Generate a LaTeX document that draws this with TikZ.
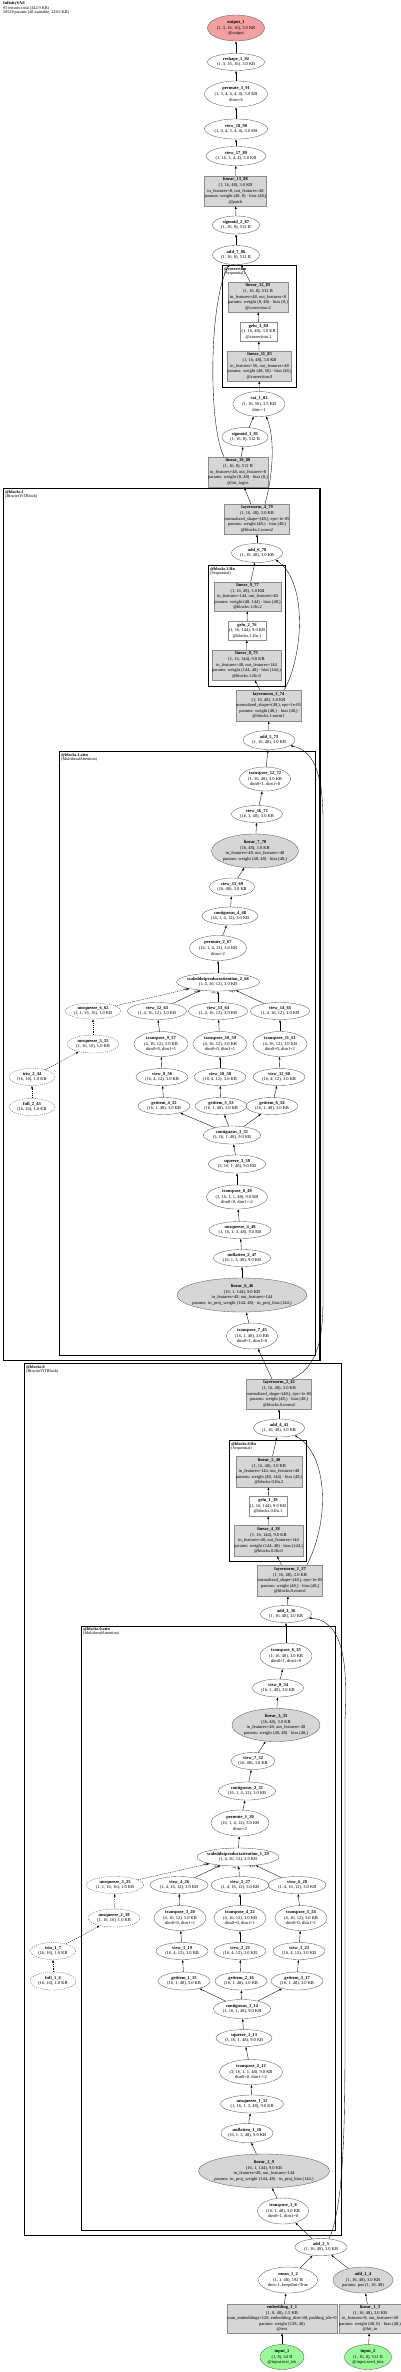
\documentclass[tikz,border=0pt]{standalone}
\usepackage{fontspec}
\setmainfont{Liberation Serif}
\usetikzlibrary{arrows.meta,shapes.geometric}
\definecolor{outfill}{HTML}{F4A0A0}
\definecolor{infill}{HTML}{98FB98}
\definecolor{parfill}{HTML}{D6D6D6}

\begin{document}
\begin{tikzpicture}[x=1pt,y=-1pt,
  every node/.style={font=\fontsize{4.5}{5.6}\selectfont,align=center,inner sep=0pt},
  sz/.style 2 args={minimum width=#1pt,minimum height=#2pt},
  oval/.style={ellipse,draw=black!65,line width=0.35pt,inner xsep=-8pt,inner ysep=-3pt},
  doval/.style={oval,dash pattern=on 1.2pt off 1pt},
  poval/.style={oval,fill=parfill},
  pbox/.style={rectangle,draw=black!45,fill=parfill,line width=0.35pt},
  wbox/.style={rectangle,draw=black!45,line width=0.35pt},
  cluster/.style={draw=black,line width=1pt},
  outer/.style={draw=black,line width=1.5pt},
  clab/.style={anchor=north west,align=left,font=\fontsize{4.2}{4.3}\selectfont},
  conn/.style={-{Latex[length=2.8pt,width=2pt]},line width=0.35pt},
  dconn/.style={conn,dash pattern=on 1.2pt off 1pt},
  lab/.style={font=\fontsize{3}{3}\selectfont}]
\useasboundingbox (0,0) rectangle (400,2372);

\node[anchor=north west,align=left,font=\fontsize{4.2}{4.4}\selectfont] (title) at (3,1.5)
  {\textbf{InfinityVAE}\\95 tensors total (342.9 KB)\\58528 params (all trainable, 228.6 KB)};

% module boxes
\draw[outer] (222.3,265.7) rectangle (296.7,387.3);
\node[clab] (correction_lab) at (224,267) {\textbf{@correction}\\(Sequential)};
\draw[outer] (3.3,488.7) rectangle (320,1360.7);
\node[clab] (blocks_1_lab) at (5,490) {\textbf{@blocks.1}\\(BitwiseViTBlock)};
\draw[cluster] (208.3,565.7) rectangle (285.7,686);
\node[clab] (blocks_1_ffn_lab) at (210,567) {\textbf{@blocks.1.ffn}\\(Sequential)};
\draw[cluster] (59.3,751.7) rectangle (315,1355);
\node[clab] (blocks_1_attn_lab) at (61,753) {\textbf{@blocks.1.attn}\\(MultiheadAttention)};
\draw[outer] (24.3,1363.3) rectangle (341.7,2235.7);
\node[clab] (blocks_0_lab) at (26,1365) {\textbf{@blocks.0}\\(BitwiseViTBlock)};
\draw[cluster] (229.3,1440.7) rectangle (306.7,1561);
\node[clab] (blocks_0_ffn_lab) at (231,1442) {\textbf{@blocks.0.ffn}\\(Sequential)};
\draw[cluster] (81,1626) rectangle (335.7,2230);
\node[clab] (blocks_0_attn_lab) at (83,1627.5) {\textbf{@blocks.0.attn}\\(MultiheadAttention)};

% head
\node[oval,sz={57}{26},fill=outfill] (output_1) at (236,28) {\textbf{output\_1}\\(1, 3, 16, 16), 3.0 KB\\@output};
\node[oval,sz={57}{17}] (reshape_1_92) at (236,62) {\textbf{reshape\_1\_92}\\(1, 3, 16, 16), 3.0 KB};
\node[oval,sz={63}{26}] (permute_3_91) at (236,94) {\textbf{permute\_3\_91}\\(1, 3, 4, 4, 4, 4), 3.0 KB\\dims=6};
\node[oval,sz={63}{20}] (view_18_90) at (236,129) {\textbf{view\_18\_90}\\(1, 4, 4, 3, 4, 4), 3.0 KB};
\node[oval,sz={60}{19}] (view_17_89) at (236,156) {\textbf{view\_17\_89}\\(1, 16, 3, 4, 4), 3.0 KB};
\node[pbox,sz={61}{30}] (linear_13_88) at (235.5,191) {\textbf{linear\_13\_88}\\(1, 16, 48), 3.0 KB\\in\_features=8, out\_features=48\\params: weight (48, 8) · bias (48,)\\@patch};
\node[oval,sz={47}{18}] (sigmoid_2_87) at (236,225) {\textbf{sigmoid\_2\_87}\\(1, 16, 8), 512 B};
\node[oval,sz={47}{19}] (add_7_86) at (236,255) {\textbf{add\_7\_86}\\(1, 16, 8), 512 B};
\node[pbox,sz={58}{30}] (linear_12_85) at (258,297) {\textbf{linear\_12\_85}\\(1, 16, 8), 512 B\\in\_features=48, out\_features=8\\params: weight (8, 48) · bias (8,)\\@correction.2};
\node[wbox,sz={37}{19}] (gelu_3_84) at (258.5,331.5) {\textbf{gelu\_3\_84}\\(1, 16, 48), 3.0 KB\\@correction.1};
\node[pbox,sz={63}{30}] (linear_11_83) at (259.5,366) {\textbf{linear\_11\_83}\\(1, 16, 48), 3.0 KB\\in\_features=56, out\_features=48\\params: weight (48, 56) · bias (48,)\\@correction.0};
\node[oval,sz={52}{25}] (cat_1_82) at (259,404) {\textbf{cat\_1\_82}\\(1, 16, 56), 3.5 KB\\dim=-1};
\node[oval,sz={46}{19}] (sigmoid_1_81) at (245,437) {\textbf{sigmoid\_1\_81}\\(1, 16, 8), 512 B};
\node[pbox,sz={58}{30}] (linear_10_80) at (238,472) {\textbf{linear\_10\_80}\\(1, 16, 8), 512 B\\in\_features=48, out\_features=8\\params: weight (8, 48) · bias (8,)\\@bit\_logits};

% blocks.1
\node[pbox,sz={62}{30}] (layernorm_4_79) at (257,519) {\textbf{layernorm\_4\_79}\\(1, 16, 48), 3.0 KB\\normalized\_shape=(48,), eps=1e-05\\params: weight (48,) · bias (48,)\\@blocks.1.norm2};
\node[oval,sz={51}{19}] (add_6_78) at (257,553) {\textbf{add\_6\_78}\\(1, 16, 48), 3.0 KB};
\node[pbox,sz={63}{29}] (linear_9_77) at (247.5,596.5) {\textbf{linear\_9\_77}\\(1, 16, 48), 3.0 KB\\in\_features=144, out\_features=48\\params: weight (48, 144) · bias (48,)\\@blocks.1.ffn.2};
\node[wbox,sz={38}{19}] (gelu_2_76) at (247,630.5) {\textbf{gelu\_2\_76}\\(1, 16, 144), 9.0 KB\\@blocks.1.ffn.1};
\node[pbox,sz={65}{30}] (linear_8_75) at (246.5,665) {\textbf{linear\_8\_75}\\(1, 16, 144), 9.0 KB\\in\_features=48, out\_features=144\\params: weight (144, 48) · bias (144,)\\@blocks.1.ffn.0};
\node[pbox,sz={63}{31}] (layernorm_3_74) at (268.5,705.5) {\textbf{layernorm\_3\_74}\\(1, 16, 48), 3.0 KB\\normalized\_shape=(48,), eps=1e-05\\params: weight (48,) · bias (48,)\\@blocks.1.norm1};
\node[oval,sz={52}{19}] (add_5_73) at (269,740) {\textbf{add\_5\_73}\\(1, 16, 48), 3.0 KB};
\node[oval,sz={51}{24}] (transpose_12_72) at (265,779) {\textbf{transpose\_12\_72}\\(1, 16, 48), 3.0 KB\\dim0=1, dim1=0};
\node[oval,sz={51}{17}] (view_16_71) at (257,814) {\textbf{view\_16\_71}\\(16, 1, 48), 3.0 KB};
\node[poval,sz={87}{34}] (linear_7_70) at (255,851) {\textbf{linear\_7\_70}\\(16, 48), 3.0 KB\\in\_features=48, out\_features=48\\params: weight (48, 48) · bias (48,)};
\node[oval,sz={45}{18}] (view_15_69) at (232,887) {\textbf{view\_15\_69}\\(16, 48), 3.0 KB};
\node[oval,sz={56}{18}] (contiguous_4_68) at (230,916) {\textbf{contiguous\_4\_68}\\(16, 1, 4, 12), 3.0 KB};
\node[oval,sz={57}{25}] (permute_2_67) at (218,948) {\textbf{permute\_2\_67}\\(16, 1, 4, 12), 3.0 KB\\dims=2};
\node[oval,sz={83}{18}] (sdpa_2_66) at (218,982) {\textbf{scaleddotproductattention\_2\_66}\\(1, 4, 16, 12), 3.0 KB};
\node[doval,sz={56}{16}] (unsqueeze_6_62) at (93,1011) {\textbf{unsqueeze\_6\_62}\\(1, 1, 16, 16), 1.0 KB};
\node[oval,sz={59}{17}] (view_12_63) at (157,1011) {\textbf{view\_12\_63}\\(1, 4, 16, 12), 3.0 KB};
\node[oval,sz={59}{17}] (view_13_64) at (218,1011) {\textbf{view\_13\_64}\\(1, 4, 16, 12), 3.0 KB};
\node[oval,sz={59}{17}] (view_14_65) at (280,1011) {\textbf{view\_14\_65}\\(1, 4, 16, 12), 3.0 KB};
\node[doval,sz={52}{18}] (unsqueeze_5_55) at (93,1044) {\textbf{unsqueeze\_5\_55}\\(1, 16, 16), 1.0 KB};
\node[oval,sz={54}{25}] (transpose_9_57) at (161,1044) {\textbf{transpose\_9\_57}\\(4, 16, 12), 3.0 KB\\dim0=0, dim1=1};
\node[oval,sz={54}{25}] (transpose_10_59) at (220,1044) {\textbf{transpose\_10\_59}\\(4, 16, 12), 3.0 KB\\dim0=0, dim1=1};
\node[oval,sz={54}{25}] (transpose_11_61) at (280,1044) {\textbf{transpose\_11\_61}\\(4, 16, 12), 3.0 KB\\dim0=0, dim1=1};
\node[doval,sz={46}{17}] (triu_2_44) at (32,1077) {\textbf{triu\_2\_44}\\(16, 16), 1.0 KB};
\node[oval,sz={52}{17}] (view_9_56) at (162,1077) {\textbf{view\_9\_56}\\(16, 4, 12), 3.0 KB};
\node[oval,sz={52}{17}] (view_10_58) at (220,1077) {\textbf{view\_10\_58}\\(16, 4, 12), 3.0 KB};
\node[oval,sz={52}{17}] (view_11_60) at (279,1077) {\textbf{view\_11\_60}\\(16, 4, 12), 3.0 KB};
\node[doval,sz={46}{17}] (full_2_43) at (32,1107) {\textbf{full\_2\_43}\\(16, 16), 1.0 KB};
\node[oval,sz={52}{17}] (getitem_4_52) at (164,1106) {\textbf{getitem\_4\_52}\\(16, 1, 48), 3.0 KB};
\node[oval,sz={52}{17}] (getitem_5_53) at (221,1106) {\textbf{getitem\_5\_53}\\(16, 1, 48), 3.0 KB};
\node[oval,sz={52}{17}] (getitem_6_54) at (272,1106) {\textbf{getitem\_6\_54}\\(16, 1, 48), 3.0 KB};
\node[oval,sz={57}{18}] (contiguous_3_51) at (232,1135) {\textbf{contiguous\_3\_51}\\(3, 16, 1, 48), 9.0 KB};
\node[oval,sz={57}{18}] (squeeze_3_50) at (237,1164) {\textbf{squeeze\_3\_50}\\(3, 16, 1, 48), 9.0 KB};
\node[oval,sz={61}{24}] (transpose_8_49) at (237,1197) {\textbf{transpose\_8\_49}\\(3, 16, 1, 1, 48), 9.0 KB\\dim0=0, dim1=-2};
\node[oval,sz={62}{17}] (unsqueeze_4_48) at (240,1230) {\textbf{unsqueeze\_4\_48}\\(1, 16, 1, 3, 48), 9.0 KB};
\node[oval,sz={57}{17}] (unflatten_2_47) at (242,1258) {\textbf{unflatten\_2\_47}\\(16, 1, 3, 48), 9.0 KB};
\node[poval,sz={130}{34}] (linear_6_46) at (242,1295) {\textbf{linear\_6\_46}\\(16, 1, 144), 9.0 KB\\in\_features=48, out\_features=144\\params: in\_proj\_weight (144, 48) · in\_proj\_bias (144,)};
\node[oval,sz={51}{26}] (transpose_7_45) at (252,1336) {\textbf{transpose\_7\_45}\\(16, 1, 48), 3.0 KB\\dim0=1, dim1=0};

% blocks.0
\node[pbox,sz={64}{30}] (layernorm_2_42) at (279,1394) {\textbf{layernorm\_2\_42}\\(1, 16, 48), 3.0 KB\\normalized\_shape=(48,), eps=1e-05\\params: weight (48,) · bias (48,)\\@blocks.0.norm2};
\node[oval,sz={51}{18}] (add_4_41) at (279,1428) {\textbf{add\_4\_41}\\(1, 16, 48), 3.0 KB};
\node[pbox,sz={64}{31}] (linear_5_40) at (269,1471.5) {\textbf{linear\_5\_40}\\(1, 16, 48), 3.0 KB\\in\_features=144, out\_features=48\\params: weight (48, 144) · bias (48,)\\@blocks.0.ffn.2};
\node[wbox,sz={38}{20}] (gelu_1_39) at (268,1506) {\textbf{gelu\_1\_39}\\(1, 16, 144), 9.0 KB\\@blocks.0.ffn.1};
\node[pbox,sz={65}{31}] (linear_4_38) at (268.5,1540.5) {\textbf{linear\_4\_38}\\(1, 16, 144), 9.0 KB\\in\_features=48, out\_features=144\\params: weight (144, 48) · bias (144,)\\@blocks.0.ffn.0};
\node[pbox,sz={64}{31}] (layernorm_1_37) at (290,1580.5) {\textbf{layernorm\_1\_37}\\(1, 16, 48), 3.0 KB\\normalized\_shape=(48,), eps=1e-05\\params: weight (48,) · bias (48,)\\@blocks.0.norm1};
\node[oval,sz={51}{17}] (add_3_36) at (286,1614) {\textbf{add\_3\_36}\\(1, 16, 48), 3.0 KB};
\node[oval,sz={52}{26}] (transpose_6_35) at (286,1656) {\textbf{transpose\_6\_35}\\(1, 16, 48), 3.0 KB\\dim0=1, dim1=0};
\node[oval,sz={51}{18}] (view_8_34) at (278,1688) {\textbf{view\_8\_34}\\(16, 1, 48), 3.0 KB};
\node[poval,sz={88}{33}] (linear_3_33) at (276,1725) {\textbf{linear\_3\_33}\\(16, 48), 3.0 KB\\in\_features=48, out\_features=48\\params: weight (48, 48) · bias (48,)};
\node[oval,sz={44}{17}] (view_7_32) at (253,1761) {\textbf{view\_7\_32}\\(16, 48), 3.0 KB};
\node[oval,sz={57}{18}] (contiguous_2_31) at (247,1791) {\textbf{contiguous\_2\_31}\\(16, 1, 4, 12), 3.0 KB};
\node[oval,sz={58}{26}] (permute_1_30) at (240,1823) {\textbf{permute\_1\_30}\\(16, 1, 4, 12), 3.0 KB\\dims=2};
\node[oval,sz={82}{18}] (sdpa_1_29) at (238,1857) {\textbf{scaleddotproductattention\_1\_29}\\(1, 4, 16, 12), 3.0 KB};
\node[doval,sz={57}{17}] (unsqueeze_3_25) at (115,1885) {\textbf{unsqueeze\_3\_25}\\(1, 1, 16, 16), 1.0 KB};
\node[oval,sz={58}{17}] (view_4_26) at (179,1885) {\textbf{view\_4\_26}\\(1, 4, 16, 12), 3.0 KB};
\node[oval,sz={58}{17}] (view_5_27) at (240,1885) {\textbf{view\_5\_27}\\(1, 4, 16, 12), 3.0 KB};
\node[oval,sz={58}{17}] (view_6_28) at (297,1885) {\textbf{view\_6\_28}\\(1, 4, 16, 12), 3.0 KB};
\node[doval,sz={52}{18}] (unsqueeze_2_18) at (114,1918) {\textbf{unsqueeze\_2\_18}\\(1, 16, 16), 1.0 KB};
\node[oval,sz={52}{25}] (transpose_3_20) at (180,1918) {\textbf{transpose\_3\_20}\\(4, 16, 12), 3.0 KB\\dim0=0, dim1=1};
\node[oval,sz={52}{25}] (transpose_4_22) at (240,1918) {\textbf{transpose\_4\_22}\\(4, 16, 12), 3.0 KB\\dim0=0, dim1=1};
\node[oval,sz={52}{25}] (transpose_5_24) at (301,1918) {\textbf{transpose\_5\_24}\\(4, 16, 12), 3.0 KB\\dim0=0, dim1=1};
\node[doval,sz={45}{17}] (triu_1_7) at (53,1951) {\textbf{triu\_1\_7}\\(16, 16), 1.0 KB};
\node[oval,sz={52}{17}] (view_1_19) at (182,1951) {\textbf{view\_1\_19}\\(16, 4, 12), 3.0 KB};
\node[oval,sz={52}{17}] (view_2_21) at (240,1951) {\textbf{view\_2\_21}\\(16, 4, 12), 3.0 KB};
\node[oval,sz={52}{17}] (view_3_23) at (299,1951) {\textbf{view\_3\_23}\\(16, 4, 12), 3.0 KB};
\node[doval,sz={46}{18}] (full_1_6) at (53,1981) {\textbf{full\_1\_6}\\(16, 16), 1.0 KB};
\node[oval,sz={52}{18}] (getitem_1_15) at (184,1981) {\textbf{getitem\_1\_15}\\(16, 1, 48), 3.0 KB};
\node[oval,sz={52}{18}] (getitem_2_16) at (241,1981) {\textbf{getitem\_2\_16}\\(16, 1, 48), 3.0 KB};
\node[oval,sz={52}{18}] (getitem_3_17) at (297,1981) {\textbf{getitem\_3\_17}\\(16, 1, 48), 3.0 KB};
\node[oval,sz={57}{19}] (contiguous_1_14) at (242,2009) {\textbf{contiguous\_1\_14}\\(3, 16, 1, 48), 9.0 KB};
\node[oval,sz={56}{17}] (squeeze_1_13) at (244,2038) {\textbf{squeeze\_1\_13}\\(3, 16, 1, 48), 9.0 KB};
\node[oval,sz={63}{25}] (transpose_2_12) at (251,2072) {\textbf{transpose\_2\_12}\\(3, 16, 1, 1, 48), 9.0 KB\\dim0=0, dim1=-2};
\node[oval,sz={63}{18}] (unsqueeze_1_11) at (252,2104) {\textbf{unsqueeze\_1\_11}\\(1, 16, 1, 3, 48), 9.0 KB};
\node[oval,sz={52}{19}] (unflatten_1_10) at (247,2133) {\textbf{unflatten\_1\_10}\\(16, 1, 3, 48), 9.0 KB};
\node[poval,sz={131}{34}] (linear_2_9) at (264,2171) {\textbf{linear\_2\_9}\\(16, 1, 144), 9.0 KB\\in\_features=48, out\_features=144\\params: in\_proj\_weight (144, 48) · in\_proj\_bias (144,)};
\node[oval,sz={51}{26}] (transpose_1_8) at (283,2211) {\textbf{transpose\_1\_8}\\(16, 1, 48), 3.0 KB\\dim0=1, dim1=0};

% inputs
\node[oval,sz={52}{17}] (add_2_5) at (321,2247) {\textbf{add\_2\_5}\\(1, 16, 48), 3.0 KB};
\node[oval,sz={59}{26}] (mean_1_2) at (288,2280) {\textbf{mean\_1\_2}\\(1, 1, 48), 192 B\\dim=1, keepdim=True};
\node[poval,sz={60}{26}] (add_1_4) at (363,2280) {\textbf{add\_1\_4}\\(1, 16, 48), 3.0 KB\\params: pos (1, 16, 48)};
\node[pbox,sz={103}{29}] (embedding_1_1) at (282,2318.5) {\textbf{embedding\_1\_1}\\(1, 8, 48), 1.5 KB\\num\_embeddings=128, embedding\_dim=48, padding\_idx=0\\params: weight (128, 48)\\@text};
\node[pbox,sz={62}{29}] (linear_1_3) at (370,2318.5) {\textbf{linear\_1\_3}\\(1, 16, 48), 3.0 KB\\in\_features=8, out\_features=48\\params: weight (48, 8) · bias (48,)\\@bit\_in};
\node[oval,sz={44}{25},fill=infill] (input_1) at (282,2357) {\textbf{input\_1}\\(1, 8), 64 B\\@input.text\_ids};
\node[oval,sz={47}{25},fill=infill] (input_2) at (368,2357) {\textbf{input\_2}\\(1, 16, 8), 512 B\\@input.seed\_bits};

% straight connectors
\foreach \s/\t in {reshape_1_92/output_1, permute_3_91/reshape_1_92, view_18_90/permute_3_91,
  view_17_89/view_18_90, linear_13_88/view_17_89, sigmoid_2_87/linear_13_88,
  add_7_86/sigmoid_2_87, linear_12_85/add_7_86, gelu_3_84/linear_12_85,
  linear_11_83/gelu_3_84, cat_1_82/linear_11_83, sigmoid_1_81/cat_1_82,
  linear_10_80/sigmoid_1_81, layernorm_4_79/linear_10_80, add_6_78/layernorm_4_79,
  linear_9_77/add_6_78, gelu_2_76/linear_9_77, linear_8_75/gelu_2_76,
  layernorm_3_74/linear_8_75, add_5_73/layernorm_3_74, transpose_12_72/add_5_73,
  view_16_71/transpose_12_72, linear_7_70/view_16_71, view_15_69/linear_7_70,
  contiguous_4_68/view_15_69, permute_2_67/contiguous_4_68, sdpa_2_66/permute_2_67,
  transpose_9_57/view_12_63, transpose_10_59/view_13_64, transpose_11_61/view_14_65,
  view_9_56/transpose_9_57, view_10_58/transpose_10_59, view_11_60/transpose_11_61,
  getitem_4_52/view_9_56, getitem_5_53/view_10_58, getitem_6_54/view_11_60,
  contiguous_3_51/getitem_4_52, contiguous_3_51/getitem_5_53, contiguous_3_51/getitem_6_54,
  squeeze_3_50/contiguous_3_51, transpose_8_49/squeeze_3_50, unsqueeze_4_48/transpose_8_49,
  unflatten_2_47/unsqueeze_4_48, linear_6_46/unflatten_2_47, transpose_7_45/linear_6_46,
  layernorm_2_42/transpose_7_45, add_4_41/layernorm_2_42, linear_5_40/add_4_41,
  gelu_1_39/linear_5_40, linear_4_38/gelu_1_39, layernorm_1_37/linear_4_38,
  add_3_36/layernorm_1_37, transpose_6_35/add_3_36, view_8_34/transpose_6_35,
  linear_3_33/view_8_34, view_7_32/linear_3_33, contiguous_2_31/view_7_32,
  permute_1_30/contiguous_2_31, sdpa_1_29/permute_1_30,
  transpose_3_20/view_4_26, transpose_4_22/view_5_27, transpose_5_24/view_6_28,
  view_1_19/transpose_3_20, view_2_21/transpose_4_22, view_3_23/transpose_5_24,
  getitem_1_15/view_1_19, getitem_2_16/view_2_21, getitem_3_17/view_3_23,
  contiguous_1_14/getitem_1_15, contiguous_1_14/getitem_2_16, contiguous_1_14/getitem_3_17,
  squeeze_1_13/contiguous_1_14, transpose_2_12/squeeze_1_13, unsqueeze_1_11/transpose_2_12,
  unflatten_1_10/unsqueeze_1_11, linear_2_9/unflatten_1_10, transpose_1_8/linear_2_9,
  add_2_5/transpose_1_8, mean_1_2/add_2_5, add_1_4/add_2_5,
  embedding_1_1/mean_1_2, linear_1_3/add_1_4, input_1/embedding_1_1, input_2/linear_1_3}
  \draw[conn] (\s) -- (\t);

% mask chains
\foreach \s/\t in {full_2_43/triu_2_44, triu_2_44/unsqueeze_5_55, unsqueeze_5_55/unsqueeze_6_62,
  full_1_6/triu_1_7, triu_1_7/unsqueeze_2_18, unsqueeze_2_18/unsqueeze_3_25}
  \draw[dconn] (\s) -- (\t);

% attention arguments
\draw[dconn] (unsqueeze_6_62) -- (sdpa_2_66) node[lab,at end,anchor=north east] {arg 3};
\draw[conn] (view_12_63) -- (sdpa_2_66) node[lab,at end,anchor=north east] {arg 0};
\draw[conn] (view_13_64) -- (sdpa_2_66) node[lab,at end,anchor=north east] {arg 1};
\draw[conn] (view_14_65) -- (sdpa_2_66) node[lab,at end,anchor=north east] {arg 2};
\draw[dconn] (unsqueeze_3_25) -- (sdpa_1_29) node[lab,at end,anchor=north east] {arg 3};
\draw[conn] (view_4_26) -- (sdpa_1_29) node[lab,at end,anchor=north east] {arg 0};
\draw[conn] (view_5_27) -- (sdpa_1_29) node[lab,at end,anchor=north east] {arg 1};
\draw[conn] (view_6_28) -- (sdpa_1_29) node[lab,at end,anchor=north east] {arg 2};

% skip connections
\draw[conn] ([xshift=-14pt]linear_10_80.north) .. controls (208,425) and (209,300) .. (add_7_86.-125);
\draw[conn] ([xshift=8pt]layernorm_4_79.north) .. controls (272,480) and (276,440) .. (cat_1_82.-60);
\draw[conn] ([xshift=16pt]layernorm_3_74.north) .. controls (305,650) and (306,580) .. (add_6_78.-20);
\draw[conn] ([xshift=13pt]layernorm_2_42.north) .. controls (315,1368) and (323,1345) .. (323,1300)
  -- (323,820) .. controls (323,770) and (312,750) .. (add_5_73.-15);
\draw[conn] ([xshift=17pt]layernorm_1_37.north) .. controls (330,1520) and (328,1455) .. (add_4_41.-25);
\draw[conn] (add_2_5.45) .. controls (346,2200) and (345,2100) .. (345,2000)
  -- (345,1720) .. controls (349,1650) and (338,1620) .. (add_3_36.-10);
\end{tikzpicture}
\end{document}
